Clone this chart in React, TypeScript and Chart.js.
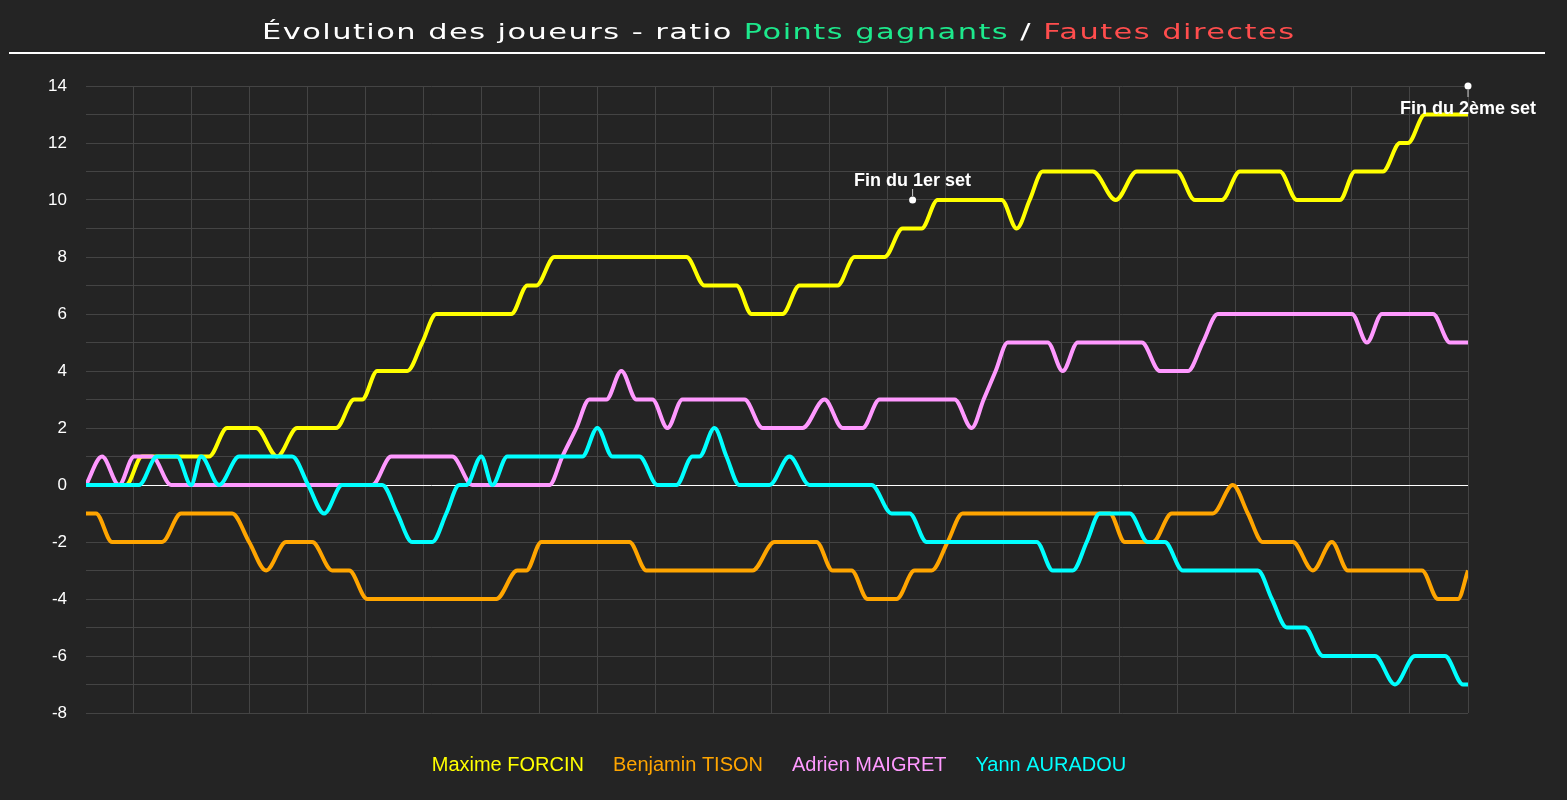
import { useEffect, useRef } from 'react'
import { Chart, registerables } from 'chart.js'

Chart.register(...registerables)

// players and line colours (legend order)
const players = ['Maxime FORCIN', 'Benjamin TISON', 'Adrien MAIGRET', 'Yann AURADOU']
const lineColors = ['#ffff00', '#ffa500', '#ff99ff', '#00ffff']

// elapsed time (x) and ratio winners - direct faults (y), per player
const forcinT = [69, 109, 125, 192, 210, 239, 260, 280, 319, 337, 345, 360, 390, 405, 419, 494, 510, 519, 537, 669, 687, 719, 734, 765, 782, 820, 837, 867, 885, 904, 920, 984, 999, 1012, 1025, 1075, 1098, 1119, 1159, 1177, 1204, 1222, 1262, 1279, 1322, 1337, 1365, 1382, 1390, 1407, 1450]
const forcinV = [0, 0, 1, 1, 2, 2, 1, 2, 2, 3, 3, 4, 4, 5, 6, 6, 7, 7, 8, 8, 7, 7, 6, 6, 7, 7, 8, 8, 9, 9, 10, 10, 9, 10, 11, 11, 10, 11, 11, 10, 10, 11, 11, 10, 10, 11, 11, 12, 12, 13, 13]

const tisonT = [69, 79, 95, 145, 164, 215, 232, 249, 269, 295, 315, 332, 350, 479, 500, 509, 524, 612, 629, 735, 757, 799, 815, 834, 850, 879, 897, 914, 930, 945, 1092, 1107, 1135, 1154, 1195, 1215, 1230, 1245, 1275, 1295, 1314, 1330, 1404, 1420, 1440, 1450]
const tisonV = [-1, -1, -2, -2, -1, -1, -2, -3, -2, -2, -3, -3, -4, -4, -3, -3, -2, -2, -3, -3, -2, -2, -3, -3, -4, -4, -3, -3, -2, -1, -1, -2, -2, -1, -1, 0, -1, -2, -2, -3, -2, -3, -3, -4, -4, -3]

const maigretT = [69, 85, 102, 117, 135, 154, 355, 374, 435, 455, 532, 545, 559, 572, 589, 604, 619, 635, 650, 665, 727, 745, 785, 807, 825, 845, 862, 937, 954, 966, 978, 990, 1030, 1045, 1060, 1124, 1142, 1170, 1185, 1200, 1334, 1349, 1364, 1415, 1432, 1450]
const maigretV = [0, 1, 0, 1, 1, 0, 0, 1, 1, 0, 0, 1, 2, 3, 3, 4, 3, 3, 2, 3, 3, 2, 2, 3, 2, 2, 3, 3, 2, 3, 4, 5, 5, 4, 5, 5, 4, 4, 5, 6, 6, 5, 6, 6, 5, 5]

const auradouT = [69, 122, 140, 160, 174, 184, 202, 222, 275, 291, 307, 325, 365, 380, 395, 415, 429, 442, 449, 464, 475, 490, 565, 580, 595, 622, 640, 659, 675, 682, 697, 709, 722, 752, 772, 792, 854, 874, 892, 909, 1019, 1035, 1055, 1069, 1082, 1112, 1130, 1147, 1165, 1240, 1254, 1269, 1287, 1305, 1357, 1377, 1397, 1427, 1445, 1450]
const auradouV = [0, 0, 1, 1, 0, 1, 0, 1, 1, 0, -1, 0, 0, -1, -2, -2, -1, 0, 0, 1, 0, 1, 1, 2, 1, 1, 0, 0, 1, 1, 2, 1, 0, 0, 1, 0, 0, -1, -1, -2, -2, -3, -3, -2, -1, -1, -2, -2, -3, -3, -4, -5, -5, -6, -6, -7, -6, -6, -7, -7]

// end-of-set markers
const setT = [895, 1450]
const setV = [10, 14]
const setLabels = ['Fin du 1er set', 'Fin du 2ème set']
const setPlacement = ['above', 'below']

const titleParts = [
  { text: 'Évolution des joueurs - ratio ', color: '#ffffff' },
  { text: 'Points gagnants', color: '#1de88c' },
  { text: ' / ', color: '#ffffff' },
  { text: 'Fautes directes', color: '#ff4d4d' },
]

const BG = '#242424'
const GRID = '#444444'
const FONT = '"Liberation Sans", Arial, sans-serif'

const toPoints = (t: number[], v: number[]) => t.map((x, i) => ({ x, y: v[i] }))

const backdrop = {
  id: 'backdrop',
  beforeDraw(chart: any) {
    const { ctx, width } = chart
    ctx.save()
    ctx.fillStyle = BG
    ctx.fillRect(0, 0, width, chart.height)

    // title: coloured parts, glyphs stretched to look wide
    ctx.font = '21px "DejaVu Sans", sans-serif'
    ctx.textBaseline = 'alphabetic'
    ctx.textAlign = 'left'
    const ls = 1
    ctx.letterSpacing = `${ls}px`
    const total = titleParts.reduce((s, p) => s + ctx.measureText(p.text).width, 0)
    const stretch = 1032 / (total - ls)
    ctx.translate(778, 39)
    ctx.scale(stretch, 1)
    let x = -(total - ls) / 2
    titleParts.forEach(p => {
      ctx.fillStyle = p.color
      ctx.fillText(p.text, x, 0)
      x += ctx.measureText(p.text).width
    })
    ctx.restore()

    ctx.save()
    ctx.fillStyle = '#ffffff'
    ctx.fillRect(9, 52, 1536, 2)
    ctx.restore()
  },
}

const setMarkers = {
  id: 'setMarkers',
  afterDatasetsDraw(chart: any) {
    const { ctx } = chart
    const meta = chart.getDatasetMeta(4)
    ctx.save()
    meta.data.forEach((pt: any, i: number) => {
      const above = setPlacement[i] === 'above'
      ctx.strokeStyle = '#cccccc'
      ctx.lineWidth = 1
      ctx.beginPath()
      ctx.moveTo(pt.x, pt.y + (above ? -4 : 4))
      ctx.lineTo(pt.x, pt.y + (above ? -11 : 11))
      ctx.stroke()
      ctx.font = `bold 18px ${FONT}`
      ctx.fillStyle = '#ffffff'
      ctx.textAlign = 'center'
      ctx.textBaseline = 'alphabetic'
      ctx.fillText(setLabels[i], pt.x, pt.y + (above ? -14 : 28))
    })
    ctx.restore()
  },
}

export default function App() {
  const canvasRef = useRef<HTMLCanvasElement>(null)
  const chartRef = useRef<any>(null)

  useEffect(() => {
    document.body.style.margin = '0'
    document.body.style.background = BG
    if (!canvasRef.current) return

    const series = [
      toPoints(forcinT, forcinV),
      toPoints(tisonT, tisonV),
      toPoints(maigretT, maigretV),
      toPoints(auradouT, auradouV),
    ]

    if (chartRef.current) chartRef.current.destroy()

    chartRef.current = new Chart(canvasRef.current, {
      type: 'line',
      data: {
        datasets: [
          ...series.map((data, i) => ({
            label: players[i],
            data,
            borderColor: lineColors[i],
            backgroundColor: lineColors[i],
            borderWidth: 4,
            pointRadius: 0,
            pointHoverRadius: 0,
            cubicInterpolationMode: 'monotone' as const,
            fill: false,
            order: 4 - i,
          })),
          {
            label: 'sets',
            data: toPoints(setT, setV),
            showLine: false,
            pointRadius: 3.5,
            pointBackgroundColor: '#ffffff',
            pointBorderWidth: 0,
            borderColor: '#ffffff',
            clip: false as any,
            order: 0,
          },
        ],
      },
      options: {
        animation: false,
        responsive: true,
        maintainAspectRatio: false,
        layout: { padding: { top: 86, left: 0, right: 19, bottom: 15 } },
        plugins: {
          title: { display: false },
          tooltip: { enabled: false },
          legend: {
            position: 'bottom',
            labels: {
              font: { family: FONT, size: 20 },
              boxWidth: 0,
              boxHeight: 20,
              padding: 19,
              generateLabels: (chart: any) =>
                players.map((name, i) => ({
                  text: name,
                  fontColor: lineColors[i],
                  fillStyle: 'transparent',
                  strokeStyle: 'transparent',
                  lineWidth: 0,
                  hidden: !chart.isDatasetVisible(i),
                  datasetIndex: i,
                })),
            },
          },
        },
        scales: {
          x: {
            type: 'linear',
            min: 69,
            max: 1450,
            ticks: { display: false, stepSize: 58 },
            grid: {
              color: (c: any) => (c.tick && c.tick.value === 69 ? 'transparent' : GRID),
              drawTicks: false,
            },
            border: { display: false },
            afterFit: (s: any) => { s.height = 23 },
          },
          y: {
            min: -8,
            max: 14,
            ticks: {
              stepSize: 1,
              color: '#ffffff',
              font: { family: FONT, size: 17 },
              padding: 19,
              callback: (v: any) => (Number(v) % 2 === 0 ? v : ''),
            },
            grid: {
              color: (c: any) => (c.tick && c.tick.value === 0 ? '#ffffff' : GRID),
              drawTicks: false,
            },
            border: { display: false },
            afterFit: (s: any) => { s.width = 86 },
          },
          yRight: {
            position: 'right',
            grid: { display: false },
            ticks: { display: false },
            border: { display: false },
            afterFit: (s: any) => { s.width = 80 },
          },
        },
      },
      plugins: [backdrop, setMarkers],
    })

    return () => { if (chartRef.current) chartRef.current.destroy() }
  }, [])

  return (
    <div style={{ width: '100%', height: 800, background: BG }}>
      <canvas ref={canvasRef} style={{ display: 'block' }} />
    </div>
  )
}
